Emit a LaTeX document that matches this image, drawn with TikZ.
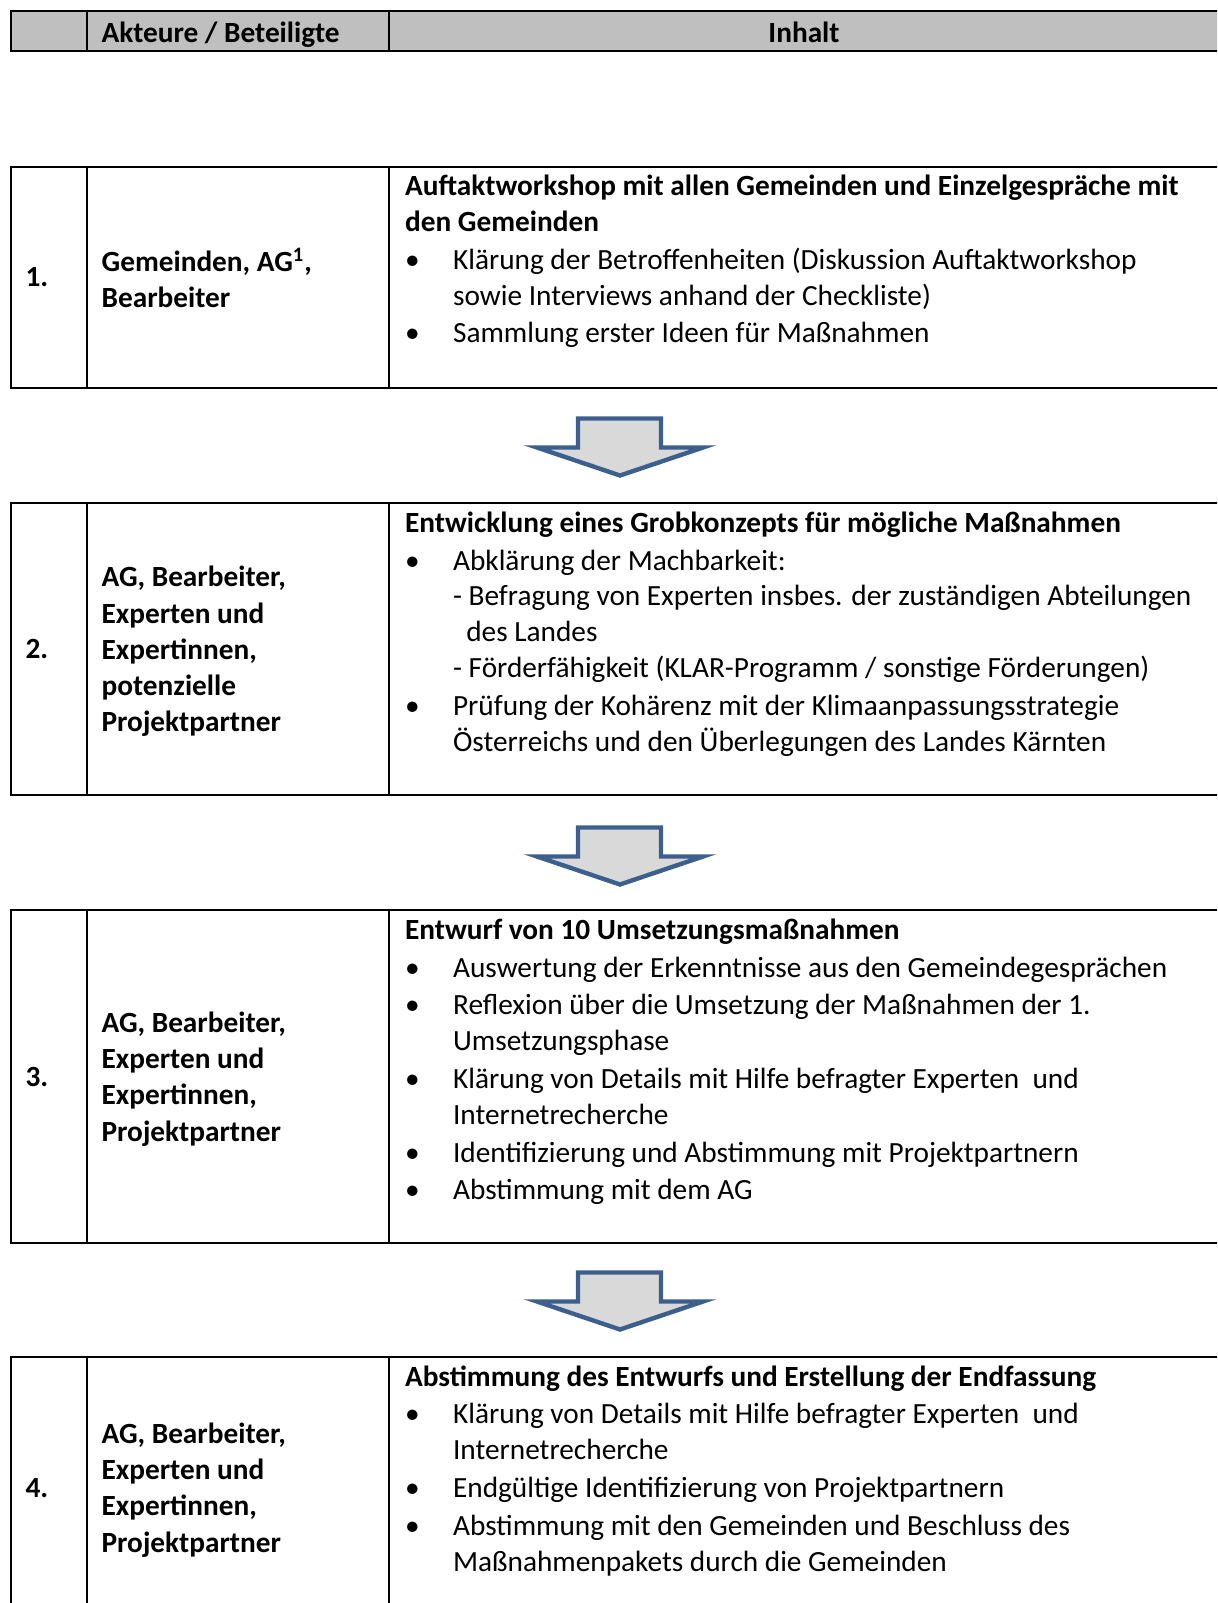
\documentclass[tikz,border=0pt]{standalone}
\usepackage{fontspec}
\setmainfont{Carlito}
\definecolor{hdrgray}{HTML}{BFBFBF}
\definecolor{arrowfill}{HTML}{D9D9D9}
\definecolor{arrowblue}{HTML}{3C5F8D}
\newcommand{\bul}{\textbullet}
\newcommand{\ttl}[1]{\multicolumn{2}{@{}l@{}}{\bfseries #1}}

\begin{document}
\begin{tikzpicture}[x=0.5pt, y=-0.5pt, line width=1.1pt,
  every node/.style={inner sep=0pt, font=\fontsize{14.65}{17.9}\selectfont},
  numtext/.style={anchor=west, font=\fontsize{14.65}{17.9}\selectfont\bfseries},
  acttext/.style={anchor=west, align=left, font=\fontsize{14.65}{18.1}\selectfont\bfseries},
  bodytext/.style={anchor=base west},
  flowarrow/.style={draw=arrowblue, fill=arrowfill, line width=2.2pt}]
  \useasboundingbox (0,0) rectangle (1217,1603);
  \clip (0,0) rectangle (1217,1603);
  % header
  \filldraw[fill=hdrgray] (11.3,11.3) rectangle (1230,51.1);
  \draw (86.9,11.3) -- (86.9,51.1) (388.6,11.3) -- (388.6,51.1);
  \node[numtext] (hdract) at (100.5,34.6) {Akteure / Beteiligte};
  \node[font=\fontsize{14.65}{17.9}\selectfont\bfseries] (hdrinh) at (804,32.7) {Inhalt};
  % rows
  \foreach \t/\b in {166.7/387.6, 503.2/794.6, 910.2/1242.6, 1357.1/1630} {
    \draw (11.3,\t) rectangle (1230,\b);
    \draw (86.9,\t) -- (86.9,\b) (388.6,\t) -- (388.6,\b);
  }
  % arrows
  \foreach \y in {418.5, 827.5, 1272.5}
    \draw[flowarrow] (537,\y+29) -- (578,\y+29) -- (578,\y) -- (661,\y) -- (661,\y+29)
      -- (703,\y+29) -- (620,\y+57) -- cycle;
  % row 1
  \node[numtext] (num1) at (24.5,277) {1.};
  \node[acttext] (act1) at (100.5,278) {Gemeinden, AG\textsuperscript{1},\\Bearbeiter};
  \node[bodytext] (inh1) at (404,195.7) {\begin{tabular}[t]{@{}p{24pt}@{}l@{}}
    \ttl{Auftaktworkshop mit allen Gemeinden und Einzelgespräche mit}\\
    \ttl{den Gemeinden}\\[1pt]
    \bul & Klärung der Betroffenheiten (Diskussion Auftaktworkshop\\
    & sowie Interviews anhand der Checkliste)\\[1pt]
    \bul & Sammlung erster Ideen für Maßnahmen
  \end{tabular}};
  % row 2
  \node[numtext] (num2) at (24.5,649) {2.};
  \node[acttext] (act2) at (100.5,651.5) {AG, Bearbeiter,\\Experten und\\Expertinnen,\\potenzielle\\Projektpartner};
  \node[bodytext] (inh2) at (404,532.2) {\begin{tabular}[t]{@{}p{24pt}@{}l@{}}
    \ttl{Entwicklung eines Grobkonzepts für mögliche Maßnahmen}\\[1pt]
    \bul & Abklärung der Machbarkeit:\\
    & - Befragung von Experten insbes. der zuständigen Abteilungen\\
    & \hspace{6.6pt}des Landes\\
    & - Förderfähigkeit (KLAR-Programm / sonstige Förderungen)\\[1pt]
    \bul & Prüfung der Kohärenz mit der Klimaanpassungsstrategie\\
    & Österreichs und den Überlegungen des Landes Kärnten
  \end{tabular}};
  % row 3
  \node[numtext] (num3) at (24.5,1077) {3.};
  \node[acttext] (act3) at (100.5,1079) {AG, Bearbeiter,\\Experten und\\Expertinnen,\\Projektpartner};
  \node[bodytext] (inh3) at (404,939.2) {\begin{tabular}[t]{@{}p{24pt}@{}l@{}}
    \ttl{Entwurf von 10 Umsetzungsmaßnahmen}\\[1pt]
    \bul & Auswertung der Erkenntnisse aus den Gemeindegesprächen\\[1pt]
    \bul & Reflexion über die Umsetzung der Maßnahmen der 1.\\
    & Umsetzungsphase\\[1pt]
    \bul & Klärung von Details mit Hilfe befragter Experten\ \ und\\
    & Internetrecherche\\[1pt]
    \bul & Identifizierung und Abstimmung mit Projektpartnern\\[1pt]
    \bul & Abstimmung mit dem AG
  \end{tabular}};
  % row 4
  \node[numtext] (num4) at (24.5,1488) {4.};
  \node[acttext] (act4) at (100.5,1490) {AG, Bearbeiter,\\Experten und\\Expertinnen,\\Projektpartner};
  \node[bodytext] (inh4) at (404,1386.1) {\begin{tabular}[t]{@{}p{24pt}@{}l@{}}
    \ttl{Abstimmung des Entwurfs und Erstellung der Endfassung}\\[1pt]
    \bul & Klärung von Details mit Hilfe befragter Experten\ \ und\\
    & Internetrecherche\\[1pt]
    \bul & Endgültige Identifizierung von Projektpartnern\\[1pt]
    \bul & Abstimmung mit den Gemeinden und Beschluss des\\
    & Maßnahmenpakets durch die Gemeinden
  \end{tabular}};
\end{tikzpicture}
\end{document}
